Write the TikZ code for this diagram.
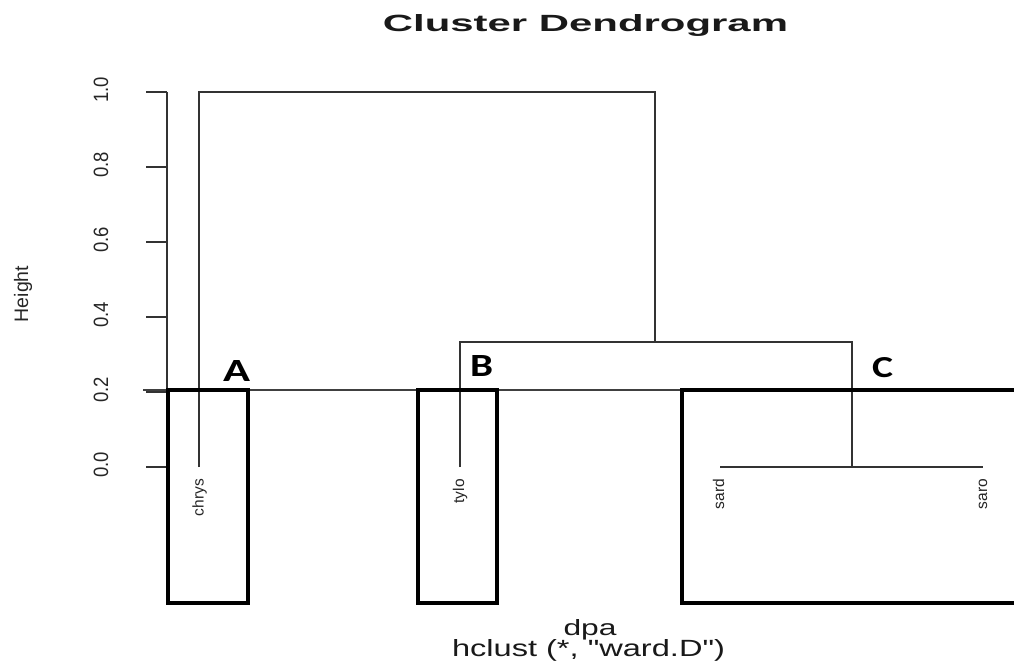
\documentclass[tikz,border=0pt]{standalone}
\usepackage{fontspec}
\setmainfont{Liberation Sans}[Ligatures=TeXOff]
\newfontfamily\letterfont{Carlito}
\begin{document}
\begin{tikzpicture}[x=1pt,y=-1pt,
  dend/.style={draw=black!80, line width=1.1pt},
  axisline/.style={draw=black!80, line width=1.1pt},
  cutline/.style={draw=black!75, line width=1.1pt},
  clusterbox/.style={draw=black, line width=3.3pt},
  ticklabel/.style={rotate=90, anchor=base, inner sep=0pt, font=\fontsize{18.5}{18.5}\selectfont, text=black!85},
  leaflabel/.style={rotate=90, anchor=base east, inner sep=0pt, font=\fontsize{15.5}{15.5}\selectfont, text=black!85},
  grouplabel/.style={anchor=base, inner sep=0pt, font=\letterfont\bfseries},
  plaintext/.style={anchor=base, inner sep=0pt, text=black!90}]
\useasboundingbox (0,0) rectangle (1014,666);
\fill[white] (0,0) rectangle (1014,666);

% title and axis annotations
\node[plaintext] (title) at (585.5,31.5) {\resizebox{405pt}{17pt}{\bfseries Cluster Dendrogram}};
\node[plaintext] (dpa) at (590,635) {\resizebox{53pt}{16pt}{dpa}};
\node[plaintext] (method) at (588.5,656) {\resizebox{273pt}{17pt}{hclust (*, "ward.D")}};
\node[rotate=90, anchor=base, inner sep=0pt, font=\fontsize{19.5}{19.5}\selectfont, text=black!85] (ylab) at (28,294) {Height};

% y axis
\coordinate (ax0) at (167,467);
\coordinate (ax1) at (167,92);
\draw[axisline] (ax0) -- (ax1);
\foreach \v/\y in {0.0/467,0.2/392,0.4/317,0.6/242,0.8/167,1.0/92}{
  \coordinate (t\y) at (146,\y);
  \draw[axisline] (t\y) -- (167,\y);
  \node[ticklabel] (tl\y) at (108,\y-2) {\scalebox{1}[1.12]{\v}};
}

% leaves and merges
\coordinate (chrys) at (199,467);
\coordinate (tylo) at (460,467);
\coordinate (sard) at (720,467);
\coordinate (saro) at (983,467);
\coordinate (m1) at (852,467);
\coordinate (m2) at (655,342);
\coordinate (m3) at (427,92);

\draw[dend] (sard) -- (saro);
\draw[dend] (tylo) |- (m2) -| (m1);
\draw[dend] (chrys) |- (m3) -| (m2);

\node[leaflabel] (lchrys) at (203.5,479) {chrys};
\node[leaflabel] (ltylo) at (464,479) {tylo};
\node[leaflabel] (lsard) at (724,479) {sard};
\node[leaflabel] (lsaro) at (987,479) {saro};

% cut line
\coordinate (cutL) at (143,390);
\coordinate (cutR) at (1014,390);
\draw[cutline] (cutL) -- (cutR);

% cluster boxes
\draw[clusterbox] (168,390) rectangle (248,603);
\draw[clusterbox] (418,390) rectangle (497,603);
\draw[clusterbox] (682,390) rectangle (1030,603);

\node[grouplabel] (gA) at (236.5,381) {\resizebox{27pt}{21pt}{A}};
\node[grouplabel] (gB) at (481.5,376) {\resizebox{23pt}{21pt}{B}};
\node[grouplabel] (gC) at (882.5,377) {\resizebox{21pt}{20pt}{C}};
\end{tikzpicture}
\end{document}
